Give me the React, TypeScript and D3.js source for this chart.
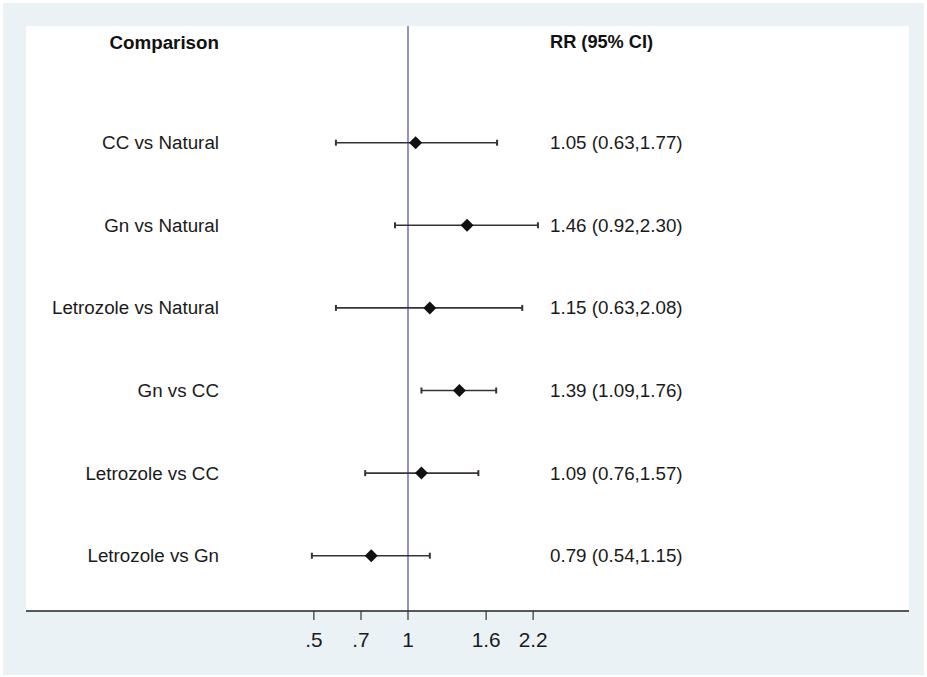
import React from "react";
import * as d3 from "d3";

// Pairwise comparisons with risk ratios and 95% confidence limits
const comparisons = [
  "CC vs Natural",
  "Gn vs Natural",
  "Letrozole vs Natural",
  "Gn vs CC",
  "Letrozole vs CC",
  "Letrozole vs Gn",
];
const rr = [1.05, 1.46, 1.15, 1.39, 1.09, 0.79];
const lower = [0.63, 0.92, 0.63, 1.09, 0.76, 0.54];
const upper = [1.77, 2.3, 2.08, 1.76, 1.57, 1.15];

// Axis ticks (positions on the ratio scale and their printed labels)
const tickValues = [0.547, 0.74, 1, 1.65, 2.23];
const tickLabels = [".5", ".7", "1", "1.6", "2.2"];

const W = 927;
const H = 677;
const panel = { left: 26, right: 909, top: 26, bottom: 611 };
const nullX = 408;
const pxPerLog = 156;
const font = "'Liberation Sans', Arial, Helvetica, sans-serif";

const fmt = (v: number) => v.toFixed(2);

export default function App() {
  const x = d3
    .scaleLog()
    .domain([Math.exp(-1), Math.exp(1)])
    .range([nullX - pxPerLog, nullX + pxPerLog]);

  const y = d3.scalePoint<string>().domain(comparisons).range([142.7, 555.7]);

  const labelX = 219;
  const valueX = 550;
  const headerY = 42;
  const cap = 3;
  const d = 6.5;

  return (
    <svg
      width={W}
      height={H}
      style={{ position: "absolute", left: 0, top: 0, display: "block" }}
      fontFamily={font}
    >
      <rect x={0} y={0} width={W} height={H} fill="#ffffff" />
      <rect x={3} y={3} width={W - 6} height={H - 5} fill="#ebf2f5" />
      <rect
        x={panel.left}
        y={panel.top}
        width={panel.right - panel.left}
        height={panel.bottom - panel.top}
        fill="#ffffff"
      />

      {/* column headers */}
      <text
        x={labelX}
        y={headerY}
        textAnchor="end"
        dominantBaseline="central"
        fontWeight="bold"
        fontSize={18.8}
        fill="#111"
      >
        Comparison
      </text>
      <text
        x={valueX}
        y={headerY}
        textAnchor="start"
        dominantBaseline="central"
        fontWeight="bold"
        fontSize={18.2}
        fill="#111"
      >
        RR (95% CI)
      </text>

      {/* line of no effect */}
      <line
        x1={x(1)}
        x2={x(1)}
        y1={panel.top}
        y2={panel.bottom}
        stroke="#5858ac"
        strokeWidth={1.3}
      />

      {comparisons.map((c, i) => {
        const cy = y(c) as number;
        const x0 = x(lower[i]);
        const x1 = x(upper[i]);
        const xm = x(rr[i]);
        return (
          <g key={c}>
            <text
              x={labelX}
              y={cy}
              textAnchor="end"
              dominantBaseline="central"
              fontSize={18.8}
              fill="#1a1a1a"
            >
              {c}
            </text>
            <line x1={x0} x2={x1} y1={cy} y2={cy} stroke="#3a3232" strokeWidth={1.6} />
            <line x1={x0} x2={x0} y1={cy - cap} y2={cy + cap} stroke="#3a3232" strokeWidth={2} />
            <line x1={x1} x2={x1} y1={cy - cap} y2={cy + cap} stroke="#3a3232" strokeWidth={2} />
            <path
              d={`M${xm},${cy - d}L${xm + d},${cy}L${xm},${cy + d}L${xm - d},${cy}Z`}
              fill="#111"
            />
            <text
              x={valueX}
              y={cy}
              textAnchor="start"
              dominantBaseline="central"
              fontSize={18.8}
              fill="#1a1a1a"
            >
              {`${fmt(rr[i])} (${fmt(lower[i])},${fmt(upper[i])})`}
            </text>
          </g>
        );
      })}

      {/* x axis */}
      <line
        x1={panel.left}
        x2={panel.right}
        y1={panel.bottom}
        y2={panel.bottom}
        stroke="#222"
        strokeWidth={1.5}
      />
      {tickValues.map((t, i) => (
        <g key={t}>
          <line
            x1={x(t)}
            x2={x(t)}
            y1={panel.bottom}
            y2={panel.bottom + 9}
            stroke="#333"
            strokeWidth={1.2}
          />
          <text
            x={x(t)}
            y={639}
            textAnchor="middle"
            dominantBaseline="central"
            fontSize={20.8}
            fill="#1a1a1a"
          >
            {tickLabels[i]}
          </text>
        </g>
      ))}
    </svg>
  );
}
